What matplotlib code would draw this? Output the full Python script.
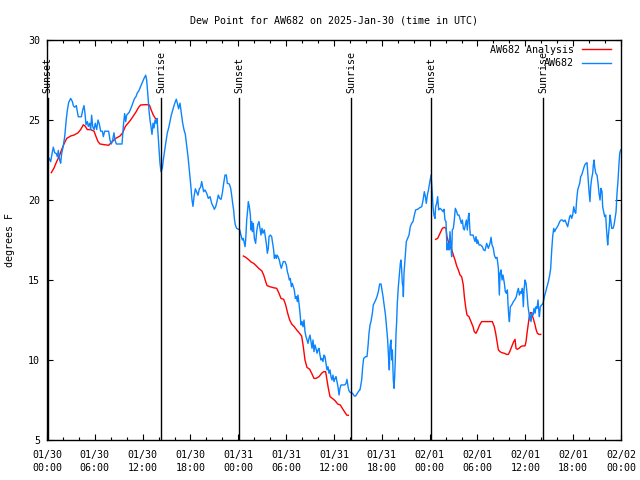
import numpy as np
import pandas as pd
import matplotlib
matplotlib.use('Agg')
import matplotlib.pyplot as plt
import matplotlib.dates as mdates
import matplotlib.transforms as mtransforms

# --- data (times are hours after 2025-01-30 00:00 UTC, values in deg F) ---
start = pd.Timestamp('2025-01-30 00:00')
end = pd.Timestamp('2025-02-02 00:00')

# station observations
obs_hours = [
    0.04, 0.25, 0.46, 0.67, 0.79, 0.96, 1.17, 1.30, 1.42, 1.59,
    1.71, 1.84, 2.01, 2.22, 2.43, 2.55, 2.72, 2.97, 3.18, 3.30,
    3.47, 3.68, 3.81, 3.93, 4.14, 4.31, 4.47, 4.64, 4.77, 4.89,
    5.06, 5.18, 5.35, 5.48, 5.60, 5.73, 5.90, 6.06, 6.23, 6.40,
    6.56, 6.73, 6.94, 7.07, 7.23, 7.48, 7.73, 7.90, 8.07, 8.24,
    8.40, 8.53, 8.70, 8.91, 9.16, 9.41, 9.57, 9.74, 9.87, 9.99,
    10.16, 10.33, 10.49, 10.66, 10.83, 10.99, 11.16, 11.33, 11.50, 11.66,
    11.83, 12.00, 12.17, 12.38, 12.50, 12.67, 12.79, 12.92, 13.04, 13.17,
    13.30, 13.42, 13.55, 13.67, 13.80, 13.92, 14.05, 14.17, 14.30, 14.47,
    14.59, 14.76, 14.93, 15.09, 15.26, 15.43, 15.59, 15.76, 15.93, 16.10,
    16.22, 16.35, 16.51, 16.68, 16.85, 17.02, 17.18, 17.35, 17.52, 17.69,
    17.85, 18.02, 18.19, 18.31, 18.44, 18.61, 18.77, 18.94, 19.11, 19.27,
    19.40, 19.57,
    19.65, 19.82, 20.03, 20.24, 20.45, 20.66, 20.86, 20.99, 21.16, 21.32,
    21.49, 21.66, 21.83, 21.99, 22.16, 22.33, 22.50, 22.62, 22.87, 23.04,
    23.16, 23.29, 23.41, 23.50, 23.62, 23.79, 24.00, 24.17, 24.33, 24.50,
    24.63, 24.75, 24.84, 24.92, 25.05, 25.17, 25.25, 25.38, 25.51, 25.59,
    25.67, 25.76, 25.88, 26.01, 26.17, 26.30, 26.43, 26.59, 26.72, 26.84,
    26.97, 27.09, 27.26, 27.39, 27.51, 27.64, 27.76, 27.85, 28.01, 28.18,
    28.31, 28.43, 28.52, 28.64, 28.77, 28.85, 28.98, 29.14, 29.27, 29.39,
    29.52, 29.64, 29.85, 30.02, 30.15, 30.27, 30.40, 30.52, 30.65, 30.77,
    30.90, 31.02, 31.15, 31.27, 31.40, 31.48, 31.61, 31.74, 31.86, 31.99,
    32.11, 32.24, 32.36, 32.49, 32.61, 32.74, 32.86, 32.99, 33.11, 33.24,
    33.37, 33.49, 33.62, 33.74, 33.87, 33.99, 34.12, 34.24, 34.37, 34.49,
    34.62, 34.75, 34.87, 35.00, 35.12, 35.25, 35.37, 35.50, 35.62, 35.75,
    35.87, 36.00, 36.13, 36.25, 36.38, 36.50, 36.63, 36.75, 36.88, 37.00,
    37.17, 37.34, 37.51, 37.63, 37.76, 37.88, 38.05, 38.22, 38.38, 38.55,
    38.72, 38.88, 39.05, 39.22,
    39.26, 39.47, 39.60, 39.72, 39.97, 40.14, 40.26, 40.39, 40.52, 40.64,
    40.81, 40.93, 41.06, 41.23, 41.39, 41.56, 41.73, 41.90, 42.02, 42.15,
    42.31, 42.48, 42.61, 42.73, 42.86, 42.94, 43.02, 43.15, 43.23, 43.32,
    43.44, 43.53, 43.61, 43.69, 43.78, 43.86, 43.94, 44.07, 44.20, 44.32,
    44.40, 44.49, 44.57, 44.66, 44.70, 44.78, 44.91, 44.99, 45.07, 45.24,
    45.41, 45.57, 45.74, 45.91, 46.08, 46.24, 46.49, 46.75, 47.00, 47.16,
    47.33, 47.46, 47.58, 47.71, 47.83, 47.96, 48.08, 48.17, 48.25, 48.33,
    48.42, 48.54, 48.67, 48.75, 48.88, 49.00, 49.13, 49.30, 49.51, 49.67,
    49.80, 49.92, 50.05, 50.17, 50.30, 50.42, 50.55, 50.68, 50.76, 50.84,
    50.97, 51.09, 51.22, 51.39, 51.51, 51.68, 51.85, 51.97, 52.10, 52.22,
    52.35, 52.47, 52.60, 52.72, 52.85, 52.93, 53.02, 53.10, 53.27, 53.44,
    53.56, 53.69, 53.81, 53.94, 54.02, 54.19, 54.40, 54.61, 54.77, 54.94,
    55.15, 55.36, 55.57, 55.70, 55.82, 55.99, 56.11, 56.28, 56.45, 56.62,
    56.74, 56.83, 56.95, 57.08, 57.20, 57.37, 57.49, 57.62, 57.75, 57.83,
    57.91, 58.00, 58.12, 58.29, 58.50, 58.71, 58.87, 59.00, 59.13, 59.25,
    59.38, 59.50, 59.63, 59.75, 59.84, 59.96, 60.09, 60.21, 60.34, 60.46,
    60.55, 60.63, 60.71, 60.84, 60.97, 61.09, 61.22, 61.34, 61.47, 61.59,
    61.68, 61.76, 61.88, 62.05, 62.22, 62.30, 62.39, 62.55, 62.72, 62.89,
    63.06, 63.18, 63.31, 63.43, 63.56, 63.68, 63.81, 63.98, 64.14, 64.31,
    64.48, 64.64, 64.81, 64.98, 65.15, 65.31, 65.44, 65.56, 65.69, 65.81,
    65.94, 66.07, 66.19, 66.32, 66.44, 66.57, 66.69, 66.82, 66.94, 67.07,
    67.19, 67.32, 67.45, 67.61, 67.74, 67.86, 67.99, 68.11, 68.20, 68.32,
    68.45, 68.53, 68.62, 68.70, 68.83, 68.99, 69.12, 69.24, 69.37, 69.49,
    69.62, 69.70, 69.83, 69.95, 70.08, 70.16, 70.25, 70.33, 70.41, 70.54,
    70.62, 70.71, 70.83, 71.00, 71.13, 71.25, 71.38, 71.50, 71.63, 71.75,
    71.84, 71.96,
]
obs_dewpt = [
    22.81, 22.6, 22.4, 23.0, 23.3, 22.96, 22.9, 22.7, 23.1, 22.5,
    22.3, 22.9, 23.3, 23.96, 25.1, 25.6, 26.1, 26.35, 26.15, 25.9,
    25.8, 25.9, 25.5, 25.2, 25.2, 25.2, 25.6, 25.9, 25.4, 24.7,
    24.9, 24.6, 24.8, 24.4, 25.3, 24.6, 24.4, 24.8, 24.4, 25.0,
    24.75, 24.3, 24.3, 23.96, 24.3, 24.3, 24.3, 23.75, 23.5, 23.75,
    24.2, 23.75, 23.5, 23.5, 23.5, 23.5, 24.6, 25.4, 24.9, 25.3,
    25.4, 25.5, 25.7, 25.9, 26.15, 26.35, 26.46, 26.7, 26.8, 27.0,
    27.2, 27.4, 27.6, 27.8, 27.5, 26.46, 25.6, 25.0, 24.6, 24.1,
    24.8, 24.5, 25.0, 24.8, 25.1, 24.2, 23.2, 22.3, 21.77, 22.0,
    22.5, 23.1, 23.65, 24.2, 24.5, 24.9, 25.3, 25.6, 25.9, 26.15,
    26.3, 26.05, 25.7, 26.05, 25.4, 24.8, 24.4, 24.1, 23.4, 22.7,
    21.9, 21.0, 20.0, 19.6, 20.2, 20.7, 20.5, 20.3, 20.7, 20.8,
    21.15, 20.7,
    20.52, 20.63, 20.42, 20.10, 20.21, 19.79, 19.58, 19.42, 19.58, 19.90,
    20.31, 20.10, 20.04, 20.42, 21.04, 21.56, 21.56, 21.04, 21.0, 20.73,
    20.31, 19.79, 19.38, 18.85, 18.44, 18.23, 18.17, 18.13, 17.81, 17.50,
    17.60, 17.29, 17.08, 17.50, 18.75, 19.38, 19.90, 19.58, 19.06, 18.13,
    18.65, 18.02, 18.54, 17.60, 17.29, 18.02, 18.44, 18.65, 18.23, 17.81,
    18.23, 17.92, 18.13, 17.71, 17.29, 16.67, 16.98, 17.71, 17.81, 17.71,
    17.29, 16.88, 16.35, 16.56, 16.35, 16.56, 16.46, 16.25, 15.94, 15.73,
    15.94, 16.15, 16.15, 15.94, 15.52, 15.31, 15.00, 15.10, 14.58, 14.79,
    14.58, 14.38, 13.85, 13.96, 13.65, 14.06, 13.54, 12.92, 12.19, 12.40,
    12.08, 12.50, 11.77, 11.46, 11.25, 11.04, 11.35, 11.56, 11.15, 10.73,
    11.25, 10.52, 10.94, 10.73, 10.42, 10.63, 10.73, 10.31, 10.0, 10.10,
    9.90, 10.31, 10.21, 9.79, 9.38, 9.58, 9.17, 9.38, 8.96, 8.75,
    9.06, 8.65, 8.85, 8.96, 8.65, 8.33, 7.81, 8.23, 8.44, 8.44,
    8.44, 8.44, 8.54, 8.79, 8.33, 8.08, 7.96, 7.96, 7.88, 7.75,
    7.75, 7.88, 8.02, 8.13,
    8.13, 8.75, 9.58, 10.10, 10.21, 10.21, 10.83, 11.67, 12.19, 12.40,
    12.92, 13.44, 13.58, 13.75, 13.96, 14.27, 14.75, 14.75, 14.38, 13.96,
    13.33, 12.71, 11.98, 11.25, 10.0, 9.38, 10.83, 11.25, 10.0, 10.63,
    8.75, 8.23, 8.96, 10.0, 11.67, 12.40, 13.54, 14.58, 15.31, 16.04,
    16.25, 15.63, 14.79, 14.58, 13.96, 15.42, 16.35, 16.98, 17.40, 17.60,
    17.81, 18.33, 18.54, 18.65, 19.06, 19.38, 19.42, 19.52, 19.58, 19.96,
    20.52, 20.21, 19.79, 20.31, 20.58, 20.94, 21.25, 21.56, 21.0, 20.42,
    19.58, 19.06, 18.85, 19.58, 19.79, 20.21, 19.38, 19.48, 19.38, 19.27,
    19.42, 18.75, 18.65, 16.88, 17.29, 16.88, 18.02, 16.98, 16.46, 18.13,
    18.23, 18.75, 19.48, 19.27, 19.06, 19.06, 18.75, 18.54, 18.75, 18.23,
    18.13, 18.44, 18.75, 18.13, 18.96, 19.17, 18.33, 17.81, 17.81, 17.81,
    17.60, 17.40, 17.71, 17.29, 17.50, 17.19, 17.19, 17.08, 16.88, 16.83,
    17.29, 16.98, 17.29, 17.67, 17.19, 16.98, 16.56, 16.35, 16.42, 15.73,
    14.06, 15.42, 15.63, 15.0, 15.31, 14.79, 14.27, 14.17, 14.38, 13.44,
    12.81, 12.40, 13.33, 13.44, 13.65, 13.79, 13.96, 14.27, 14.48, 14.06,
    14.27, 14.17, 14.48, 13.33, 14.38, 15.0, 14.79, 14.17, 13.33, 12.92,
    12.50, 12.81, 12.40, 12.92, 12.81, 13.23, 12.92, 13.33, 13.23, 13.75,
    13.13, 12.71, 13.33, 13.44, 13.54, 13.75, 13.96, 14.27, 14.58, 14.90,
    15.31, 15.73, 16.88, 17.71, 18.23, 18.02, 18.17, 18.29, 18.44, 18.65,
    18.75, 18.75, 18.65, 18.75, 18.54, 18.33, 18.65, 18.96, 19.06, 18.85,
    19.06, 19.58, 19.27, 19.17, 20.0, 20.63, 20.83, 21.04, 21.46, 21.56,
    21.77, 21.98, 22.19, 22.29, 22.33, 21.46, 20.52, 19.90, 20.83, 21.35,
    21.67, 22.19, 22.5, 22.08, 21.67, 21.56, 21.04, 20.42, 20.0, 20.73,
    20.52, 19.58, 19.27, 18.96, 19.06, 18.33, 17.71, 17.19, 17.71, 18.44,
    19.06, 18.75, 18.23, 18.23, 18.44, 18.85, 19.27, 20.42, 21.25, 22.29,
    22.92, 23.13,
]

# analysis, three separate runs
ana1_hours = [0.54, 0.88, 1.21, 1.51, 1.80, 2.13, 2.47, 2.97, 3.39, 3.89,
              4.22, 4.56, 4.81, 5.06, 5.48, 5.90, 6.15, 6.40, 6.65, 7.15,
              7.73, 8.19, 8.61, 9.16, 9.49, 9.83, 10.16, 10.49, 10.83, 11.16,
              11.50, 11.75, 12.38, 12.84, 13.09, 13.34, 13.59, 13.84]
ana1_dewpt = [21.71, 22.0, 22.4, 22.7, 23.1, 23.5, 23.85, 24.0, 24.06, 24.2,
              24.4, 24.7, 24.6, 24.4, 24.4, 24.3, 23.96, 23.65, 23.5, 23.46,
              23.42, 23.65, 23.85, 24.0, 24.2, 24.6, 24.8, 25.0, 25.25, 25.5,
              25.8, 25.94, 25.96, 25.94, 25.6, 25.3, 25.1, 24.96]

ana2_hours = [24.63, 24.92, 25.25, 25.59, 25.92, 26.26, 26.59, 26.93, 27.18, 27.43,
              27.60, 27.97, 28.39, 28.81, 29.10, 29.35, 29.69, 29.94, 30.19, 30.44,
              30.69, 31.02, 31.32, 31.61, 31.94, 32.15, 32.36, 32.61, 32.95, 33.20,
              33.49, 33.74, 34.12, 34.45, 34.70, 34.95, 35.12, 35.29, 35.50, 35.79,
              36.13, 36.46, 36.79, 37.04, 37.59, 37.80]
ana2_dewpt = [16.5, 16.42, 16.29, 16.13, 16.04, 15.88, 15.71, 15.58, 15.31, 14.90,
              14.65, 14.58, 14.52, 14.48, 14.17, 13.85, 13.79, 13.44, 12.92, 12.50,
              12.25, 12.08, 11.88, 11.71, 11.50, 10.83, 10.0, 9.54, 9.42, 9.17,
              8.85, 8.85, 8.96, 9.17, 9.27, 9.27, 8.75, 8.23, 7.71, 7.60,
              7.46, 7.25, 7.19, 6.98, 6.56, 6.54]

ana3_hours = [48.75, 49.00, 49.30, 49.59, 49.84, 50.05, 50.17, 50.34, 50.55, 50.76,
              50.97, 51.18, 51.39, 51.60, 51.81, 52.01, 52.22, 52.35, 52.51, 52.68,
              52.93, 53.18, 53.44, 53.60, 53.81, 54.02, 54.27, 54.52, 54.86, 55.36,
              55.86, 56.11, 56.28, 56.45, 56.62, 56.83, 57.03, 57.37, 57.66, 57.87,
              58.04, 58.21, 58.37, 58.54, 58.71, 58.83, 59.00, 59.21, 59.42, 59.63,
              59.96, 60.09, 60.21, 60.38, 60.50, 60.63, 60.80, 60.92, 61.05, 61.22,
              61.34, 61.51, 61.72, 61.93]
ana3_dewpt = [17.54, 17.60, 17.92, 18.23, 18.29, 18.23, 17.71, 17.40, 17.08, 16.92,
              16.56, 16.25, 15.88, 15.63, 15.31, 15.21, 14.69, 13.96, 13.33, 12.81,
              12.71, 12.40, 12.08, 11.77, 11.67, 11.88, 12.19, 12.40, 12.40, 12.40,
              12.40, 12.08, 11.67, 11.15, 10.63, 10.52, 10.46, 10.42, 10.35, 10.35,
              10.52, 10.73, 10.94, 11.15, 11.29, 10.73, 10.67, 10.73, 10.83, 10.88,
              10.88, 11.15, 11.67, 12.29, 12.71, 12.96, 12.96, 12.71, 12.50, 12.19,
              11.92, 11.67, 11.60, 11.60]

# sunrise / sunset markers
sun_hours = [0.10, 14.30, 24.08, 38.13, 48.17, 62.22]
sun_labels = ['Sunset', 'Sunrise', 'Sunset', 'Sunrise', 'Sunset', 'Sunrise']


def to_time(hours):
    return start + pd.to_timedelta(np.array(hours), unit='h')


plt.rcParams['font.family'] = 'DejaVu Sans Mono'
plt.rcParams['font.size'] = 7.2

fig = plt.figure(figsize=(6.4, 4.8), dpi=100)
ax = fig.add_axes([47 / 640, 40 / 480, 574 / 640, 400 / 480])

red = '#ff0000'
blue = '#0a84ff'

ax.plot(to_time(ana1_hours), ana1_dewpt, color=red, lw=1.0, label='AW682 Analysis')
ax.plot(to_time(ana2_hours), ana2_dewpt, color=red, lw=1.0)
ax.plot(to_time(ana3_hours), ana3_dewpt, color=red, lw=1.0)
ax.plot(to_time(obs_hours), obs_dewpt, color=blue, lw=1.0, label='AW682')

trans = mtransforms.blended_transform_factory(ax.transData, ax.transAxes)
for t, lab in zip(to_time(sun_hours), sun_labels):
    ax.axvline(t, ymin=0, ymax=0.855, color='black', lw=1.0)
    ax.text(t, 0.868, lab, rotation=90, ha='center', va='bottom', transform=trans)

ax.set_xlim(start, end)
ax.set_ylim(5, 30)
ax.set_yticks([5, 10, 15, 20, 25, 30])

ax.xaxis.set_major_locator(mdates.HourLocator(byhour=[0, 6, 12, 18]))
ax.xaxis.set_minor_locator(mdates.HourLocator(byhour=range(0, 24, 2)))
ax.xaxis.set_major_formatter(mdates.DateFormatter('%m/%d\n%H:%M'))
for lab in ax.get_xticklabels():
    lab.set_linespacing(1.35)

ax.tick_params(which='both', direction='in', top=True, right=True, width=0.8)
ax.tick_params(which='major', length=4.5)
ax.tick_params(which='minor', length=2.5)
ax.tick_params(axis='x', which='major', pad=7)
ax.tick_params(axis='y', which='major', pad=5)
for s in ax.spines.values():
    s.set_linewidth(1.0)

ax.set_title('Dew Point for AW682 on 2025-Jan-30 (time in UTC)', fontsize=7.2, pad=12)
ax.set_ylabel('degrees F')
ax.yaxis.set_label_coords(-0.056, 0.5)

ax.legend(loc='upper right', bbox_to_anchor=(1 - 10 / 574, 1 - 5 / 400),
          frameon=False, markerfirst=False,
          handlelength=2.9, handletextpad=0.8, labelspacing=0.35,
          borderpad=0.0, borderaxespad=0.0)

fig.savefig('out.png', dpi=100)
